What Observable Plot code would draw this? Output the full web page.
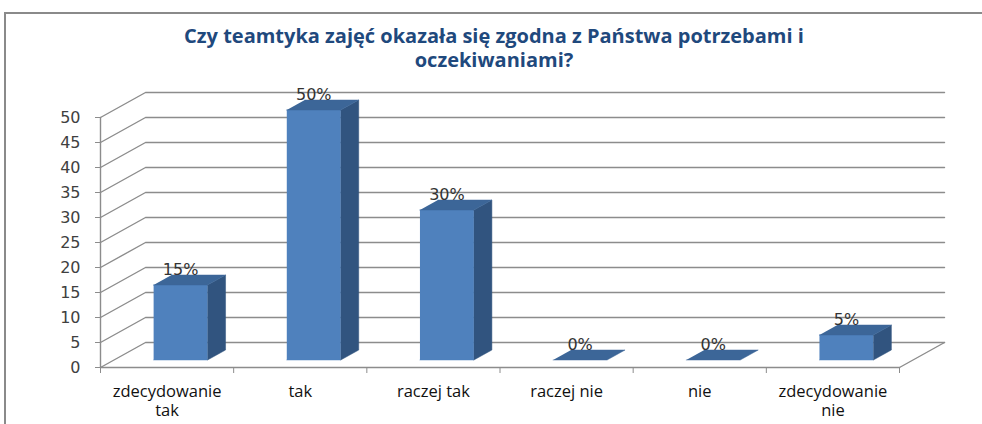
<!DOCTYPE html>
<html>
<head>
<meta charset="utf-8">
<script src="https://cdn.jsdelivr.net/npm/d3@7"></script>
<script src="https://cdn.jsdelivr.net/npm/@observablehq/plot@0.6"></script>
<style>
  html, body { margin: 0; padding: 0; background: #fff; }
  #wrap { position: relative; width: 982px; height: 424px; overflow: hidden; background: #fff; }
  #frame { position: absolute; left: 4px; top: 12px; width: 1100px; height: 600px; border: 2px solid #8a8a8a; box-sizing: border-box; }
  #title { position: absolute; left: 0; top: 24px; width: 988px; text-align: center;
           font-family: "Open Sans", sans-serif; font-weight: 700; font-size: 20px; line-height: 24px; color: #1F497D; }
  #chart { position: absolute; left: 0; top: 80px; }
</style>
</head>
<body>
<div id="wrap">
  <div id="frame"></div>
  <div id="title">Czy teamtyka zajęć okazała się zgodna z Państwa potrzebami i<br>oczekiwaniami?</div>
  <div id="chart"></div>
</div>
<script>
const categories = ["zdecydowanie\ntak", "tak", "raczej tak", "raczej nie", "nie", "zdecydowanie\nnie"];
const values = [15, 50, 30, 0, 0, 5];
const valueLabels = ["15%", "50%", "30%", "0%", "0%", "5%"];
const yTicks = [0, 5, 10, 15, 20, 25, 30, 35, 40, 45, 50];

// 3D projection constants (depth expressed in data units)
const DEPTH_X = 0.338;
const DEPTH_Y = 5;
const BAR_FRONT = 0.3, BAR_BACK = 0.7, BAR_HALF = 0.2025;
const nCat = categories.length;
const P = (x, y, d) => ({x: x + d * DEPTH_X, y: y + d * DEPTH_Y});

const gridPts = [];
yTicks.forEach(t => {
  [P(0, t, 0), P(0, t, 1), P(nCat, t, 1)].forEach(p => gridPts.push({...p, id: "g" + t}));
});
[P(nCat, 0, 0), P(nCat, 0, 1)].forEach(p => gridPts.push({...p, id: "floorR"}));
[P(0, 0, 0), P(nCat, 0, 0)].forEach(p => gridPts.push({...p, id: "base"}));
[P(0, 0, 0), P(0, yTicks[yTicks.length - 1], 0)].forEach(p => gridPts.push({...p, id: "yaxis"}));

const frontFaces = [], sideFaces = [], topFaces = [], labelPts = [];
values.forEach((v, i) => {
  const xl = i + 0.5 - BAR_HALF, xr = i + 0.5 + BAR_HALF;
  if (v > 0) {
    [P(xl, 0, BAR_FRONT), P(xr, 0, BAR_FRONT), P(xr, v, BAR_FRONT), P(xl, v, BAR_FRONT)]
      .forEach(p => frontFaces.push({...p, id: i}));
    [P(xr, 0, BAR_FRONT), P(xr, 0, BAR_BACK), P(xr, v, BAR_BACK), P(xr, v, BAR_FRONT)]
      .forEach(p => sideFaces.push({...p, id: i}));
  }
  [P(xl, v, BAR_FRONT), P(xr, v, BAR_FRONT), P(xr, v, BAR_BACK), P(xl, v, BAR_BACK)]
    .forEach(p => topFaces.push({...p, id: i}));
  labelPts.push({...P(i + 0.5, v, BAR_FRONT), text: valueLabels[i]});
});

const catData = categories.map((c, i) => ({x: i + 0.5, y: 0, text: c}));

const plot = Plot.plot({
  width: 982,
  height: 344,
  marginLeft: 100,
  marginRight: 83,
  marginTop: 12,
  marginBottom: 57,
  x: {type: "linear", domain: [0, nCat], range: [100, 899]},
  y: {type: "linear", domain: [0, 55], range: [287, 12]},
  style: {fontFamily: "DejaVu Sans, sans-serif", fontSize: "16px", background: "transparent", overflow: "visible"},
  marks: [
    Plot.line(gridPts, {x: "x", y: "y", z: "id", stroke: "#8c8c8c", strokeWidth: 1.4}),
    Plot.axisY({ticks: yTicks, tickSize: 5, tickPadding: 15, stroke: "#8c8c8c", fill: "#404040", label: null, fontSize: 16}),
    Plot.axisX({ticks: d3.range(0, nCat + 1), tickSize: 6, tickFormat: () => "", stroke: "#8c8c8c", label: null}),
    Plot.line(frontFaces, {x: "x", y: "y", z: "id", fill: "#4F81BD", stroke: "#4F81BD", strokeWidth: 0.5}),
    Plot.line(sideFaces, {x: "x", y: "y", z: "id", fill: "#31547F", stroke: "#31547F", strokeWidth: 0.5}),
    Plot.line(topFaces, {x: "x", y: "y", z: "id", fill: "#3C6698", stroke: "#3C6698", strokeWidth: 0.5}),
    Plot.text(labelPts, {x: "x", y: "y", text: "text", dy: -15, fill: "#333", fontSize: 16, fontFamily: "DejaVu Sans"}),
    Plot.text(catData, {x: "x", y: "y", text: "text", dy: 16, lineAnchor: "top", lineHeight: 1.15, fill: "#111", fontSize: 16.5, fontFamily: "Open Sans"})
  ]
});
document.getElementById("chart").appendChild(plot);
</script>
</body>
</html>
